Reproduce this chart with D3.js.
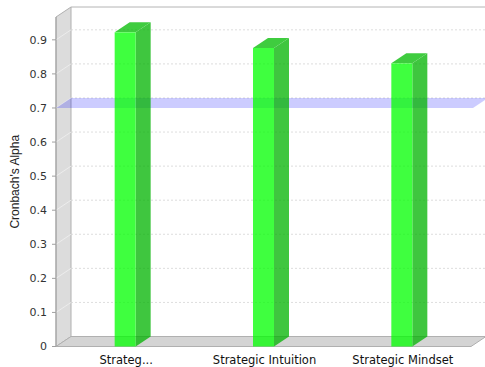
<!DOCTYPE html>
<html><head><meta charset="utf-8">
<script src="https://cdn.jsdelivr.net/npm/d3@7"></script>
<style>body{margin:0;background:#fff}svg{display:block}</style>
</head><body>
<svg id="c" width="485" height="367"></svg>
<script>
const categories = ["Strateg...", "Strategic Intuition", "Strategic Mindset"];
const alphaValues = [0.922, 0.876, 0.831];
const yTicks = [0, 0.1, 0.2, 0.3, 0.4, 0.5, 0.6, 0.7, 0.8, 0.9];
const yTickLabels = ["0", "0.1", "0.2", "0.3", "0.4", "0.5", "0.6", "0.7", "0.8", "0.9"];
const targetValue = [0.7];
const yTitle = "Cronbach's Alpha";

(function () {
const svg = d3.select("#c");
const DX = 15, DY = 10;
const pLeft = 56, pRight = 471, pTop = 17, pBottom = 346.5;
const y = d3.scaleLinear().domain([0, 0.967]).range([pBottom, pTop]);
const x = d3.scaleBand().domain(categories).range([pLeft, pRight]);
const barW = 21;
const font = "'DejaVu Sans', sans-serif";
const pts = a => a.map(p => p.join(",")).join(" ");

// back wall top border
svg.append("line").attr("x1", pLeft + DX).attr("x2", pRight + DX + 2)
  .attr("y1", pTop - DY).attr("y2", pTop - DY).attr("stroke", "#b4b4b4");
// left wall
svg.append("polygon").attr("points", pts([[pLeft, pTop], [pLeft + DX, pTop - DY], [pLeft + DX, pBottom - DY], [pLeft, pBottom]]))
  .attr("fill", "#dcdcdc").attr("stroke", "#b0b0b0").attr("stroke-width", 1);
// floor
svg.append("polygon").attr("points", pts([[pLeft, pBottom], [pLeft + DX, pBottom - DY], [pRight + DX, pBottom - DY], [pRight, pBottom]]))
  .attr("fill", "#d4d4d4").attr("stroke", "#b0b0b0").attr("stroke-width", 1);

// gridlines
yTicks.filter(v => v > 0).forEach(v => {
  svg.append("line").attr("x1", pLeft + DX).attr("x2", pRight + DX + 2)
    .attr("y1", y(v) - DY).attr("y2", y(v) - DY)
    .attr("stroke", "#d4d4d4").attr("stroke-width", 0.8).attr("stroke-dasharray", "2,2");
  svg.append("line").attr("x1", pLeft).attr("x2", pLeft + DX)
    .attr("y1", y(v)).attr("y2", y(v) - DY)
    .attr("stroke", "#f0f0f0").attr("stroke-width", 0.8);
});

// target band (behind bars)
targetValue.forEach(t => {
  svg.append("polygon").attr("points", pts([[pLeft, y(t)], [pLeft + DX, y(t) - DY], [pRight + DX + 2, y(t) - DY], [pRight + 2, y(t)]]))
    .attr("fill", "#0000ff").attr("fill-opacity", 0.2);
});

// bars (semi-transparent)
const g = svg.append("g").attr("opacity", 0.75);
categories.forEach((c, i) => {
  const v = alphaValues[i];
  const x0 = x(c) + x.bandwidth() / 2 - barW / 2, x1 = x0 + barW;
  const yt = y(v), yb = y(0);
  const bar = g.append("g");
  bar.append("polygon").attr("points", pts([[x1, yt], [x1 + DX, yt - DY], [x1 + DX, yb - DY], [x1, yb]]))
    .attr("fill", "#00b300");
  bar.append("polygon").attr("points", pts([[x0, yt], [x0 + DX, yt - DY], [x1 + DX, yt - DY], [x1, yt]]))
    .attr("fill", "#00bb00");
  bar.append("rect").attr("x", x0).attr("y", yt).attr("width", barW).attr("height", yb - yt)
    .attr("fill", "#00ff00");
});

// y axis
svg.append("line").attr("x1", pLeft).attr("x2", pLeft).attr("y1", pTop).attr("y2", pBottom)
  .attr("stroke", "#a0a0a0");
yTicks.forEach((v, i) => {
  svg.append("line").attr("x1", pLeft - 4).attr("x2", pLeft).attr("y1", y(v)).attr("y2", y(v))
    .attr("stroke", "#a0a0a0");
  svg.append("text").attr("x", 47).attr("y", y(v)).attr("dy", "0.35em")
    .attr("text-anchor", "end").attr("font-family", font).attr("font-size", 11).attr("fill", "#333")
    .text(yTickLabels[i]);
});
svg.append("text").attr("transform", `translate(19,${(pTop + pBottom) / 2}) rotate(-90)`)
  .attr("text-anchor", "middle").attr("font-family", "'Liberation Sans', Arial, sans-serif")
  .attr("font-size", 12).attr("fill", "#222").text(yTitle);

// category labels
categories.forEach(c => {
  svg.append("text").attr("x", x(c) + x.bandwidth() / 2 + 1).attr("y", 364)
    .attr("text-anchor", "middle").attr("font-family", font).attr("font-size", 11.5).attr("fill", "#111")
    .text(c);
});
})();
</script>
</body></html>
